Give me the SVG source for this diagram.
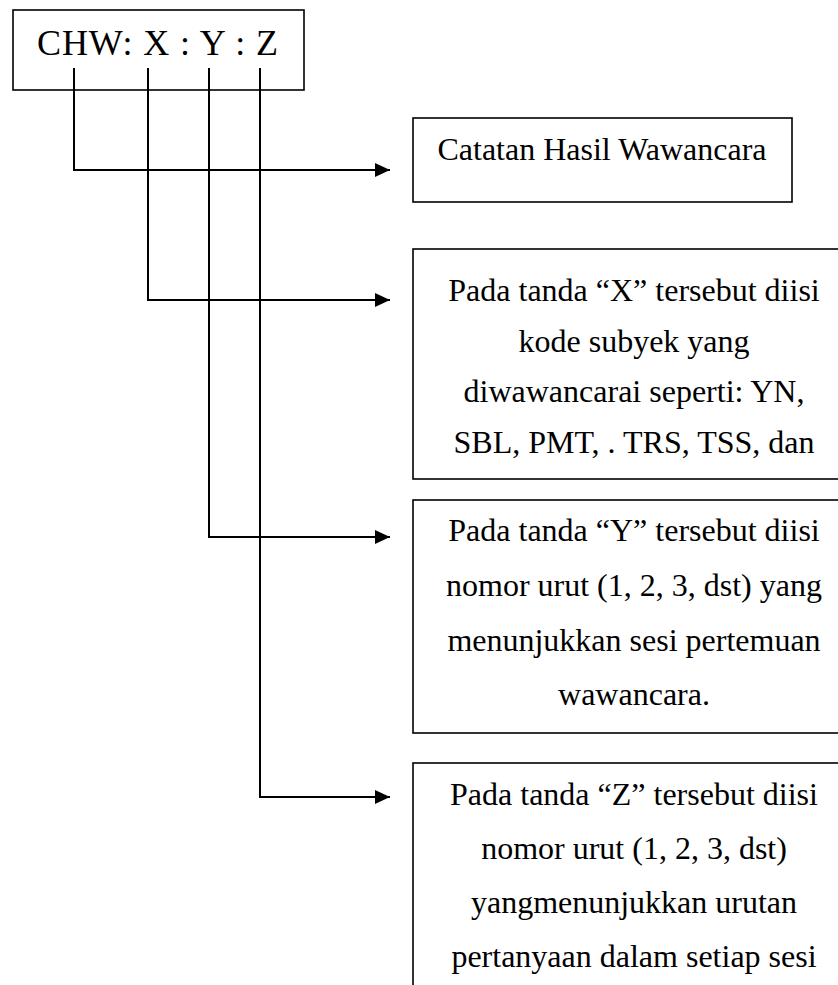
<svg xmlns="http://www.w3.org/2000/svg" width="838" height="985" viewBox="0 0 838 985">
  <style>
    .box { fill: #ffffff; stroke: #000000; stroke-width: 1.6; }
    .t { font-family: "Liberation Serif", "Times New Roman", serif; font-size: 32px; fill: #000000; text-anchor: middle; }
    .title { font-family: "Liberation Serif", "Times New Roman", serif; font-size: 36px; fill: #000000; }
    .conn { fill: none; stroke: #000000; stroke-width: 2; }
  </style>
  <defs>
    <marker id="arrow" markerUnits="userSpaceOnUse" markerWidth="16" markerHeight="14" refX="15" refY="7" orient="auto">
      <path d="M0,0 L15,7 L0,14 Z" fill="#000000"/>
    </marker>
  </defs>
  <rect width="838" height="985" fill="#ffffff"/>

  <g id="code">
    <rect class="box" x="13" y="10" width="291" height="80"/>
    <text class="title" x="37" y="55" textLength="241" lengthAdjust="spacing">CHW: X : Y : Z</text>
  </g>

  <g id="connectors">
    <polyline class="conn" points="74,68 74,170 390,170" marker-end="url(#arrow)"/>
    <polyline class="conn" points="148,68 148,300 390,300" marker-end="url(#arrow)"/>
    <polyline class="conn" points="209,68 209,537 390,537" marker-end="url(#arrow)"/>
    <polyline class="conn" points="260,68 260,797 390,797" marker-end="url(#arrow)"/>
  </g>

  <g id="catatan">
    <rect class="box" x="413" y="118" width="379" height="84"/>
    <text class="t" x="602" y="160">Catatan Hasil Wawancara</text>
  </g>

  <g id="x-desc">
    <rect class="box" x="413" y="249" width="450" height="230"/>
    <text class="t" x="634" y="301">Pada tanda “X” tersebut diisi</text>
    <text class="t" x="634" y="352">kode subyek yang</text>
    <text class="t" x="634" y="402">diwawancarai seperti: YN,</text>
    <text class="t" x="634" y="453">SBL, PMT, . TRS, TSS, dan</text>
  </g>

  <g id="y-desc">
    <rect class="box" x="413" y="500" width="450" height="233"/>
    <text class="t" x="634" y="541">Pada tanda “Y” tersebut diisi</text>
    <text class="t" x="634" y="596">nomor urut (1, 2, 3, dst) yang</text>
    <text class="t" x="634" y="651">menunjukkan sesi pertemuan</text>
    <text class="t" x="634" y="705">wawancara.</text>
  </g>

  <g id="z-desc">
    <rect class="box" x="413" y="763" width="450" height="240"/>
    <text class="t" x="634" y="805">Pada tanda “Z” tersebut diisi</text>
    <text class="t" x="634" y="859">nomor urut (1, 2, 3, dst)</text>
    <text class="t" x="634" y="913">yangmenunjukkan urutan</text>
    <text class="t" x="634" y="967">pertanyaan dalam setiap sesi</text>
  </g>
</svg>
